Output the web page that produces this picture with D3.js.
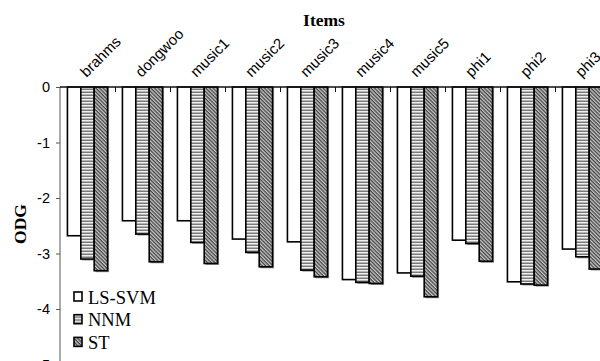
<!DOCTYPE html>
<html>
<head>
<meta charset="utf-8">
<script src="https://cdn.jsdelivr.net/npm/d3@7"></script>
<style>
body { margin: 0; background: #fff; }
svg { display: block; }
</style>
</head>
<body>
<div id="chart"></div>
<script>
var items = ['brahms', 'dongwoo', 'music1', 'music2', 'music3', 'music4', 'music5', 'phi1', 'phi2', 'phi3'];
var methods = ['LS-SVM', 'NNM', 'ST'];
var lssvm = [-2.68, -2.41, -2.41, -2.74, -2.79, -3.47, -3.35, -2.76, -3.51, -2.92];
var nnm = [-3.10, -2.65, -2.80, -2.98, -3.30, -3.52, -3.41, -2.82, -3.55, -3.06];
var st = [-3.31, -3.15, -3.18, -3.24, -3.42, -3.54, -3.78, -3.14, -3.57, -3.28];
var yTicks = [0, -1, -2, -3, -4, -5];

var W = 600, H = 361;
var svg = d3.select('#chart').append('svg')
    .attr('width', W)
    .attr('height', H)
    .attr('xmlns', 'http://www.w3.org/2000/svg');

var defs = svg.append('defs');
var pNNM = defs.append('pattern')
    .attr('id', 'pat-nnm')
    .attr('patternUnits', 'userSpaceOnUse')
    .attr('width', 4).attr('height', 3);
pNNM.append('rect').attr('width', 4).attr('height', 3).attr('fill', '#f0f0f0');
pNNM.append('rect').attr('y', 1.5).attr('width', 4).attr('height', 1.5).attr('fill', '#7a7a7a');

var pST = defs.append('pattern')
    .attr('id', 'pat-st')
    .attr('patternUnits', 'userSpaceOnUse')
    .attr('width', 2.6).attr('height', 2.6)
    .attr('patternTransform', 'rotate(45)');
pST.append('rect').attr('width', 2.6).attr('height', 2.6).attr('fill', '#c8c8c8');
pST.append('rect').attr('width', 2.6).attr('height', 1.3).attr('fill', '#444');

var fills = { 'LS-SVM': '#fff', 'NNM': 'url(#pat-nnm)', 'ST': 'url(#pat-st)' };

var table = items.map((name, i) => ({
    name: name,
    vals: [
        { key: 'LS-SVM', v: lssvm[i] },
        { key: 'NNM', v: nnm[i] },
        { key: 'ST', v: st[i] },
    ],
}));

var x0 = d3.scaleBand()
    .domain(items)
    .range([60, 610])
    .paddingInner(0.27)
    .paddingOuter(0.135);
var x1 = d3.scaleBand()
    .domain(methods)
    .range([0, x0.bandwidth()]);
var xEdge = d3.scaleLinear()
    .domain([0, items.length])
    .range([60, 610]);
var y = d3.scaleLinear()
    .domain([0, -5])
    .range([87, 364.5]);

// bars
var groups = svg.append('g').selectAll('g')
    .data(table)
    .enter()
    .append('g')
    .attr('transform', (d) => `translate(${x0(d.name)},0)`);

groups.selectAll('rect.shadow')
    .data((d) => d.vals)
    .enter()
    .append('rect')
    .attr('class', 'shadow')
    .attr('x', (d) => x1(d.key) + 1.5)
    .attr('y', y(0))
    .attr('width', x1.bandwidth())
    .attr('height', (d) => y(d.v) - y(0) + 1.5)
    .attr('fill', (d) => d.key === 'LS-SVM' ? 'none' : '#9a9a9a');

groups.selectAll('rect.bar')
    .data((d) => d.vals)
    .enter()
    .append('rect')
    .attr('class', 'bar')
    .attr('x', (d) => x1(d.key))
    .attr('y', y(0))
    .attr('width', x1.bandwidth())
    .attr('height', (d) => y(d.v) - y(0))
    .attr('fill', (d) => fills[d.key])
    .attr('stroke', '#000')
    .attr('stroke-width', 1.6);

// y axis
var yAxis = svg.append('g')
    .attr('transform', 'translate(60,0)')
    .call(d3.axisLeft(y).tickValues(yTicks).tickSize(4).tickPadding(6).tickFormat((d) => String(d)));
yAxis.select('.domain').attr('stroke', '#555').attr('d', 'M0,87V361');
yAxis.selectAll('.tick line').attr('stroke', '#555');
yAxis.selectAll('text')
    .attr('font-family', '"Liberation Sans", Arial, sans-serif')
    .attr('font-size', 14.5)
    .attr('fill', '#000');

// top axis, ticks at band edges
var xAxis = svg.append('g')
    .attr('transform', `translate(0,${y(0)})`)
    .call(d3.axisTop(xEdge).tickValues(d3.range(1, items.length + 1)).tickSize(-5).tickFormat(''));
xAxis.select('.domain').attr('stroke', '#111').attr('stroke-width', 1.5).attr('d', 'M60,0H610');
xAxis.selectAll('.tick line').attr('stroke', '#111');

// category labels
svg.append('g').selectAll('text')
    .data(items)
    .enter()
    .append('text')
    .attr('transform', (d) => `translate(${x0(d) + x0.bandwidth() / 2 - 1},78) rotate(-45)`)
    .attr('font-family', '"Liberation Sans", Arial, sans-serif')
    .attr('font-size', 15)
    .text((d) => d);

// titles
svg.append('text')
    .attr('x', 324)
    .attr('y', 26)
    .attr('text-anchor', 'middle')
    .attr('font-family', '"Liberation Serif", "Times New Roman", serif')
    .attr('font-weight', 'bold')
    .attr('font-size', 17.5)
    .text('Items');

svg.append('text')
    .attr('transform', 'translate(26,224) rotate(-90)')
    .attr('text-anchor', 'middle')
    .attr('font-family', '"Liberation Serif", "Times New Roman", serif')
    .attr('font-weight', 'bold')
    .attr('font-size', 17.5)
    .text('ODG');

// legend
var legend = svg.append('g').selectAll('g')
    .data(methods)
    .enter()
    .append('g')
    .attr('transform', (d, i) => `translate(74,${292 + i * 22.7})`);
legend.append('rect')
    .attr('width', 8)
    .attr('height', 9)
    .attr('fill', (d) => fills[d])
    .attr('stroke', '#000')
    .attr('stroke-width', 1.6);
legend.append('text')
    .attr('x', 14)
    .attr('y', 11.5)
    .attr('font-family', '"Liberation Serif", "Times New Roman", serif')
    .attr('font-size', 18.5)
    .text((d) => d);
</script>
</body>
</html>
